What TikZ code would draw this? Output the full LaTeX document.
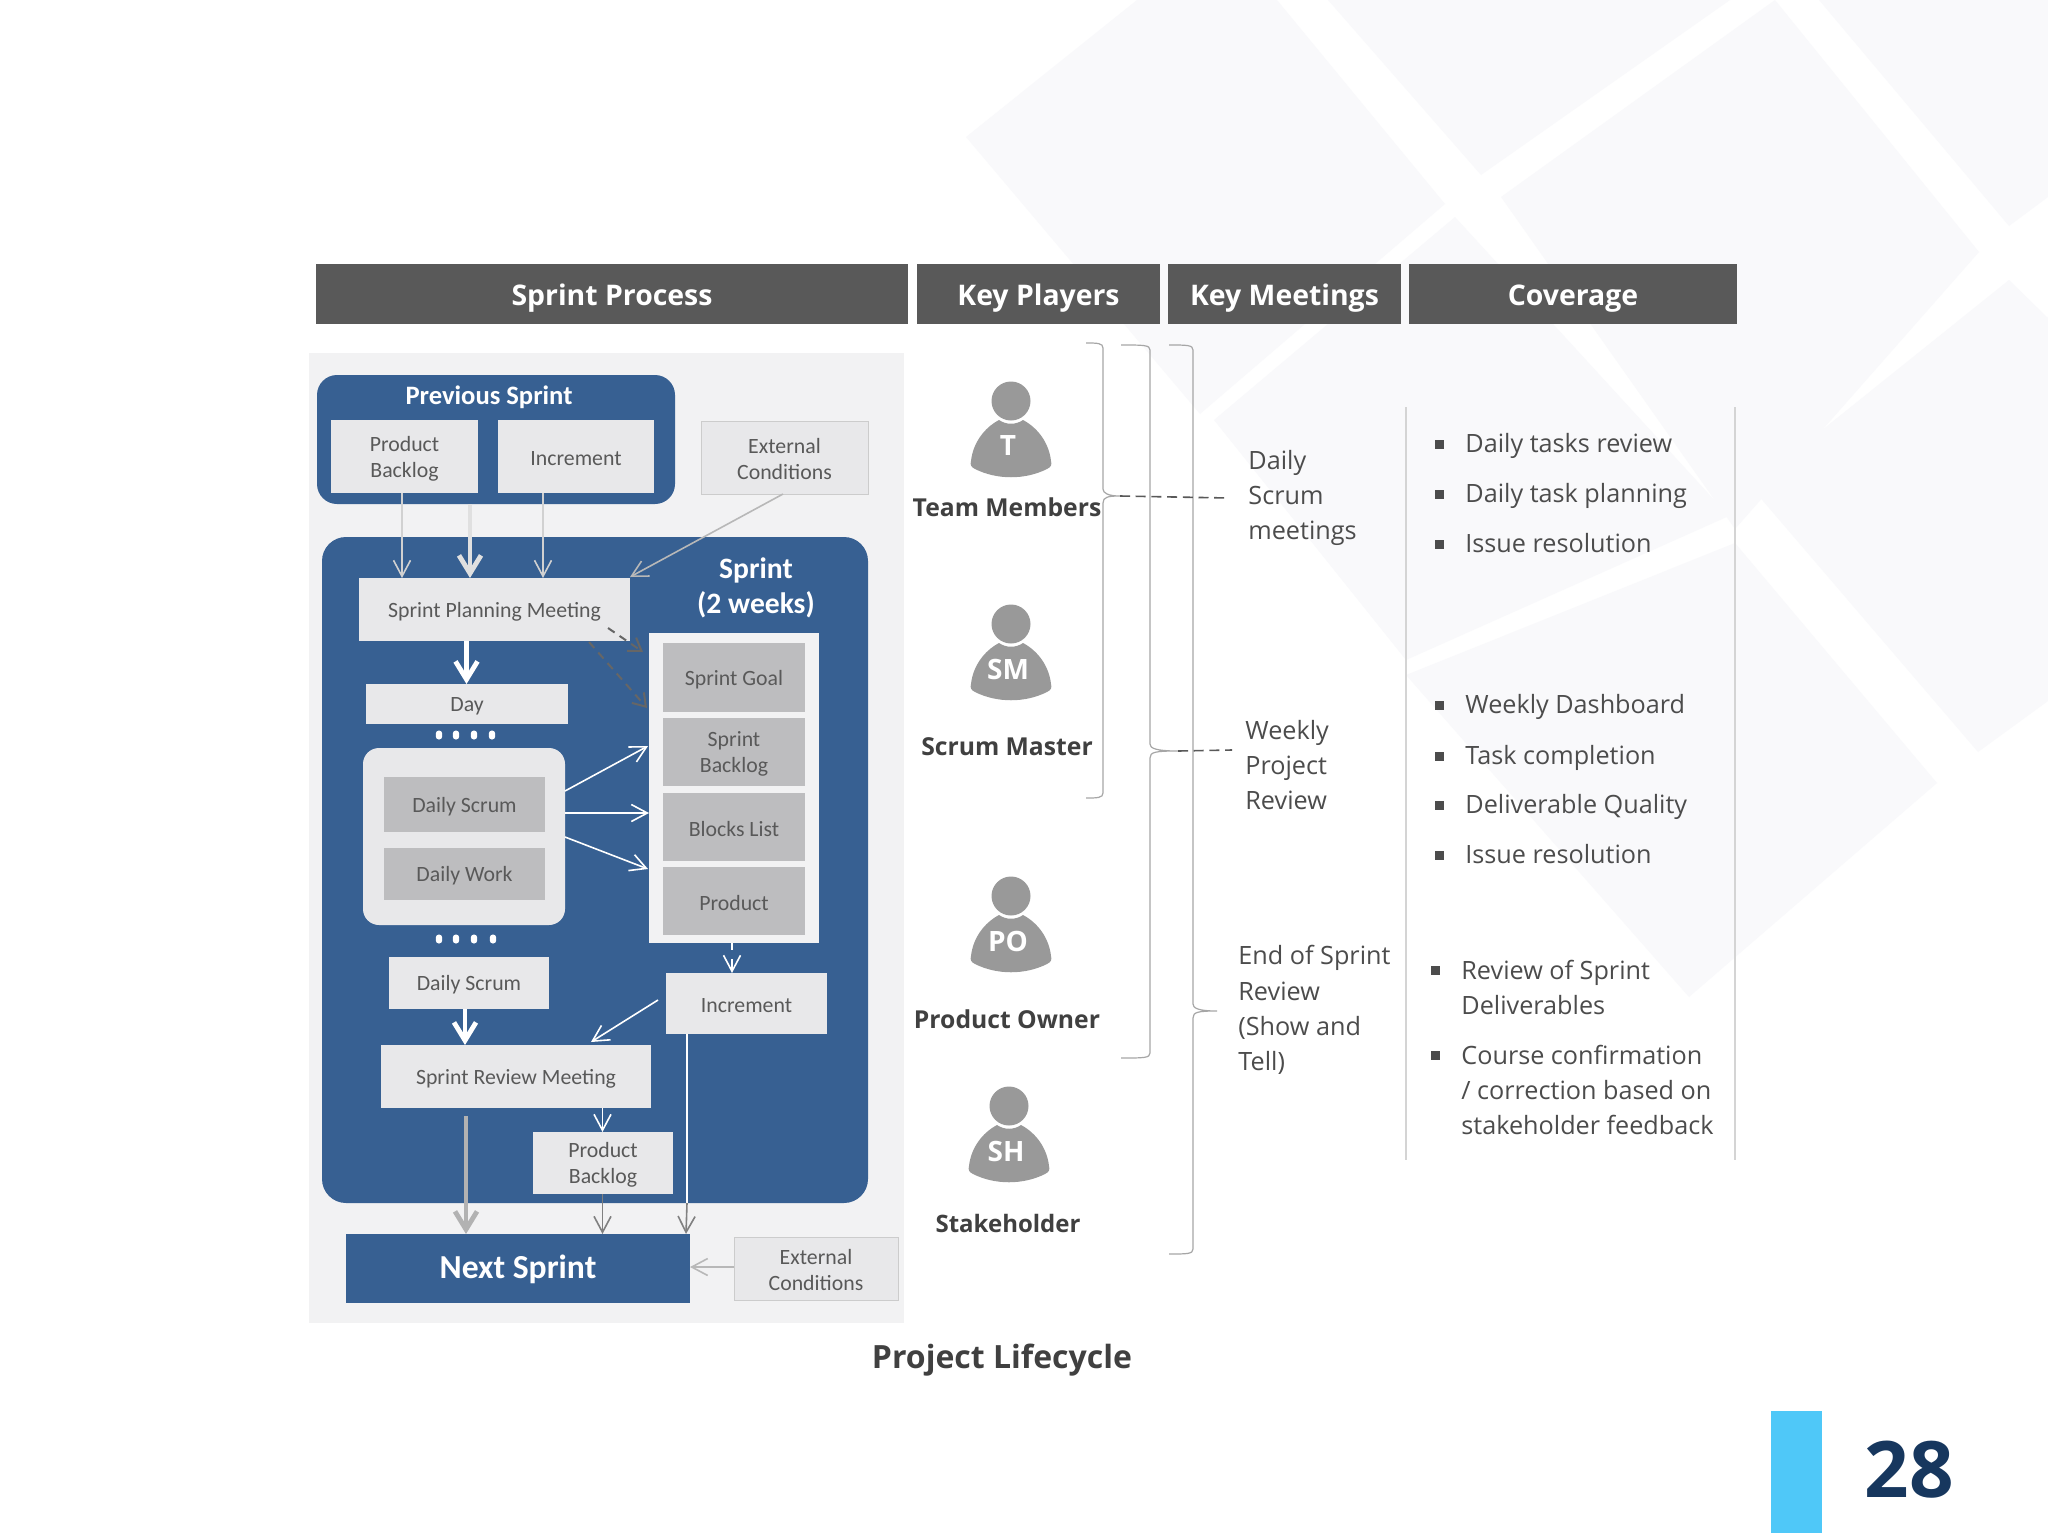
\documentclass[tikz,border=0pt]{standalone}
\usepackage{fontspec}
\setmainfont{Open Sans}
\newfontfamily\calib{Carlito}
\usetikzlibrary{arrows.meta,calc}
\definecolor{sblue}{HTML}{376092}
\definecolor{lbox}{HTML}{E8E8EA}
\definecolor{gbox}{HTML}{BDBDBF}
\definecolor{panel}{HTML}{F2F2F3}
\definecolor{head}{HTML}{595959}
\definecolor{txt}{HTML}{595959}
\definecolor{wm}{HTML}{F9F9FB}
\definecolor{pers}{HTML}{999999}
\definecolor{brc}{HTML}{A6A6A6}
\newcommand{\bx}[7]{\pgfmathsetmacro\bxcx{(#3+#5)/2}\pgfmathsetmacro\bxcy{(#4+#6)/2}\pgfmathsetmacro\bxw{(#5-#3)*0.5}\pgfmathsetmacro\bxh{(#6-#4)*0.5}\node[base box,#2,minimum width=\bxw pt,minimum height=\bxh pt] (#1) at (\bxcx,\bxcy) {\rule{0pt}{9.4pt}#7};}
\newcommand{\person}[4]{\begin{scope}[shift={(#1,#2)}]
\fill[pers] (0,0) circle[radius=19.5];
\fill[pers] (-40,60) .. controls (-38,42) and (-27,27) .. (-12,19) .. controls (-5,24) and (5,24) .. (12,19) .. controls (27,27) and (38,42) .. (40,60) .. controls (41,64) and (40,66) .. (36,68) .. controls (14,79) and (-14,79) .. (-36,68) .. controls (-40,66) and (-41,64) .. (-40,60) -- cycle;
\node[text=white,font=\fontsize{14}{16}\selectfont\bfseries,inner sep=0pt] (#3) at (-3,45) {#4};
\end{scope}}
\newcommand{\brk}[7]{\draw[brcline] (#2,#4) .. controls (#3-6,#4) and (#3,#4) .. (#3,#4+5) -- (#3,#5-7) .. controls (#3,#5-3) and (#3+5,#5) .. (#6,#5) .. controls (#3+5,#5) and (#3,#5+1) .. (#3,#5+7) -- (#3,#7-5) .. controls (#3,#7) and (#3-6,#7) .. (#2,#7);
\coordinate (#1) at (#6,#5);}
\tikzset{
 x=0.5pt,y=-0.5pt,
 base box/.style={inner sep=0pt,outer sep=0pt,align=center,text=txt,font=\fontsize{10.9}{13}\selectfont\calib},
 lb/.style={fill=lbox},
 gb/.style={fill=gbox},
 hdr/.style={fill=head,text=white,text height=11.8pt,text depth=0pt,font=\fontsize{14.2}{16}\selectfont\bfseries},
 ln/.style={line width=0.8pt,draw=#1,-{Straight Barb[length=8pt,width=8.5pt,line width=0.8pt]}},
 th/.style={line width=2.4pt,draw=#1,-{Straight Barb[length=9pt,width=11pt,line width=2.4pt]}},
 dsh/.style={line width=1pt,draw=black!60,dash pattern=on 4pt off 3pt,-{Straight Barb[length=6pt,width=8pt,line width=1pt]}},
 dotb/.style={fill=white,rounded corners=1.5pt,minimum width=3.2pt,minimum height=4.5pt,inner sep=0pt},
 brcline/.style={draw=brc,line width=0.6pt},
 dline/.style={draw=black!65,line width=0.8pt,dash pattern=on 5pt off 2.85pt},
 keytxt/.style={anchor=west,align=left,inner sep=0pt,text=black!70,font=\fontsize{12.6}{17.6}\selectfont},
 playertxt/.style={inner sep=0pt,text=black!75,font=\fontsize{12.35}{14}\selectfont\bfseries},
 sq/.style={fill=black!70,inner sep=0pt,minimum size=4.5pt},
 vline/.style={draw=black!17,line width=1pt},
 bt/.style={anchor=west,align=left,inner sep=0pt,text=black!70,font=\fontsize{12.6}{17.5}\selectfont},
 btb/.style={bt,anchor=base west}
}
\begin{document}
\begin{tikzpicture}
\useasboundingbox (0,0) rectangle (2048,1536);
\fill[white] (0,0) rectangle (2048,1536);
% watermark
\fill[wm] (966,137)--(1137,0)--(1277,0)--(1445,204)--(1200,414)--cycle;
\fill[wm] (1328,0)--(1730,0)--(1481,175)--cycle;
\fill[wm] (1775,0)--(1501,197)--(1735,529)--(1979,252)--cycle;
\fill[wm] (1819,0)--(2009,226)--(2048,197)--(2048,0)--cycle;
\fill[wm] (1455,217)--(1729,516)--(1406,660)--(1214,420)--cycle;
\fill[wm] (1751,487)--(2009,280)--(2048,318)--(2048,701)--(1978,752)--cycle;
\fill[wm] (1735,543)--(1937,783)--(1689,997)--(1406,675)--cycle;
% headers
\bx{h1}{hdr}{316}{264}{908}{324}{Sprint Process}
\bx{h2}{hdr}{917}{264}{1160}{324}{Key Players}
\bx{h3}{hdr}{1168}{264}{1401}{324}{Key Meetings}
\bx{h4}{hdr}{1409}{264}{1737}{324}{Coverage}
% panel
\bx{panelbg}{fill=panel}{309}{353}{904}{1323}{}
\bx{prev}{fill=sblue,rounded corners=10pt}{317}{375}{675}{504}{}
\bx{sprint}{fill=sblue,rounded corners=12pt}{322}{537}{868}{1203}{}
\bx{pb}{lb}{331}{420}{478}{493}{Product\\Backlog}
\bx{inc}{lb}{498}{420}{654}{493}{Increment}
\bx{ext}{lb,draw=black!20,line width=0.5pt}{701}{421}{868}{494}{External\\Conditions}
\node[text=white,font=\fontsize{13.3}{14}\selectfont\calib\bfseries,inner sep=0pt] (prevt) at (489,397) {Previous Sprint};
\node[text=white,align=center,font=\fontsize{14.8}{17.5}\selectfont\calib\bfseries,inner sep=0pt] (sprt) at (756,588) {Sprint\\(2 weeks)};
\bx{spm}{lb}{359}{578}{630}{641}{Sprint Planning Meeting}
\bx{day}{lb}{366}{684}{568}{724}{Day}
\foreach \n/\xx in {a/439,b/456,c/474,d/492}{\node[dotb] (dt\n) at (\xx,735) {};}
\bx{col}{fill=panel}{649}{633}{819}{943}{}
\bx{goal}{gb}{663}{643}{805}{712}{Sprint Goal}
\bx{bl}{gb}{663}{718}{805}{786}{Sprint\\Backlog}
\bx{blocks}{gb}{663}{793}{805}{861}{Blocks List}
\bx{prod}{gb}{663}{867}{805}{935}{Product}
\bx{grp}{lb,rounded corners=8pt}{363}{748}{565}{925}{}
\bx{ds}{gb}{384}{777}{545}{832}{Daily Scrum}
\bx{dw}{gb}{384}{848}{545}{900}{Daily Work}
\foreach \n/\xx in {a/439,b/456,c/474,d/493}{\node[dotb] (de\n) at (\xx,939) {};}
\bx{dsb}{lb}{389}{957}{549}{1009}{Daily Scrum}
\bx{incb}{lb}{666}{973}{827}{1034}{Increment}
\bx{srm}{lb}{381}{1045}{651}{1108}{Sprint Review Meeting}
\bx{pbb}{lb}{533}{1132}{673}{1194}{Product\\Backlog}
\bx{next}{fill=sblue,text=white,text height=9.5pt,text depth=0pt,font=\fontsize{16.8}{18}\selectfont\calib\bfseries}{346}{1234}{690}{1303}{Next Sprint}
\bx{extb}{lb,draw=black!20,line width=0.5pt}{734}{1237}{898}{1300}{External\\Conditions}
% helper positions
\coordinate (xa) at (402,0);
\coordinate (xb) at (470,0);
\coordinate (xc) at (543,0);
\coordinate (xd) at (466.5,0);
\coordinate (xe) at (732,0);
\coordinate (xf) at (465,0);
\coordinate (xg) at (602.5,0);
\coordinate (xh) at (686,0);
\coordinate (xi) at (466,1116);
\coordinate (yj) at (0,813);
\coordinate (ya) at (0,1267);
\coordinate (gra) at (565,791);
\coordinate (cola) at (648,746);
\coordinate (grb) at (565,837);
\coordinate (colb) at (648,869);
\coordinate (inca) at (658,1000);
\coordinate (srma) at (591,1042);
\coordinate (exa) at (783,494);
\coordinate (spa) at (630,577);
\coordinate (da) at (608,628);
\coordinate (db) at (643,652);
\coordinate (dc) at (589,642);
\coordinate (dd) at (647,708);
\coordinate (ma) at (687,1203);
% connectors
\draw[ln=black!18] (pb.south -| xa) -- (spm.north -| xa);
\draw[th=black!12] (prev.south -| xb) -- (spm.north -| xb);
\draw[ln=black!18] (inc.south -| xc) -- (spm.north -| xc);
\draw[ln=black!28] (exa) -- (spa);
\draw[th=white] (spm.south -| xd) -- (day.north -| xd);
\draw[dsh] (da) -- (db);
\draw[dsh] (dc) -- (dd);
\draw[ln=white] (gra) -- (cola);
\draw[ln=white] (grp.east |- yj) -- (col.west |- yj);
\draw[ln=white] (grb) -- (colb);
\draw[ln=white,dash pattern=on 3.5pt off 4.5pt on 20pt off 0pt] (col.south -| xe) -- (incb.north -| xe);
\draw[ln=white] (inca) -- (srma);
\draw[th=white] (dsb.south -| xf) -- (srm.north -| xf);
\draw[ln=white] (srm.south -| xg) -- (pbb.north -| xg);
\draw[th=black!30] (xi) -- (next.north -| xi);
\draw[ln=black!50] (pbb.south -| xg) -- (next.north -| xg);
\draw[line width=0.8pt,draw=white] (incb.south -| ma) -- (ma);
\draw[ln=black!50] (ma) -- (next.north -| xh);
\draw[ln=black!28] (extb.west |- ya) -- (next.east |- ya);
% persons
\person{1011}{401}{pt}{T}
\person{1011}{624}{psm}{SM}
\person{1011}{896}{ppo}{PO}
\person{1009}{1106}{psh}{SH}
\node[playertxt] (lt) at (1007,507) {Team Members};
\node[playertxt] (lsm) at (1007,747) {Scrum Master};
\node[playertxt] (lpo) at (1007,1019) {Product Owner};
\node[playertxt,font=\fontsize{12}{14}\selectfont\bfseries] (lsh) at (1008,1223) {Stakeholder};
% braces
\brk{tipa}{1086}{1103}{343}{496}{1120}{798}
\brk{tipb}{1121}{1150}{345}{751}{1178}{1058}
\brk{tipc}{1169}{1193}{345}{1011}{1217}{1254}
\coordinate (enda) at (1228,498);
\coordinate (endb) at (1232,750);
\draw[dline] (tipa) -- (enda);
\draw[dline] (tipb) -- (endb);
% key meetings
\node[keytxt] (m1) at (1248,498) {Daily\\Scrum\\meetings};
\node[keytxt] (m2) at (1245,765) {Weekly\\Project\\Review};
\node[keytxt] (m3) at (1238,1010) {End of Sprint\\Review\\(Show and\\Tell)};
% coverage
\coordinate (va) at (1406,407);
\coordinate (vb) at (1406,1160);
\coordinate (vc) at (1735,407);
\coordinate (vd) at (1735,1160);
\draw[vline] (va) -- (vb);
\draw[vline] (vc) -- (vd);
\foreach \n/\yy/\tt in {a/444/Daily tasks review,b/494/Daily task planning,c/544/Issue resolution,d/705/Weekly Dashboard,e/756/Task completion,f/805/Deliverable Quality,g/855/Issue resolution}{
 \node[sq] (s\n) at (1439,\yy) {};
 \pgfmathsetmacro\ty{\yy+8}
 \node[btb] (t\n) at (1465,\ty) {\tt};
}
\node[sq] (sh) at (1435,970) {};
\node[bt] (th) at (1461,987) {Review of Sprint\\Deliverables};
\node[sq] (si) at (1435,1055) {};
\node[bt] (ti) at (1461,1090) {Course confirmation\\/ correction based on\\stakeholder feedback};
% footer
\node[inner sep=0pt,text=black!75,font=\fontsize{16}{18}\selectfont\bfseries] (cap) at (1002,1360) {Project Lifecycle};
\fill[fill={rgb,255:red,79;green,200;blue,248}] (1771,1411) rectangle (1822,1533);
\node[inner sep=0pt,text={rgb,255:red,23;green,55;blue,94},font=\fontsize{39}{48}\selectfont\bfseries] (pg) at (1909,1470) {28};
\end{tikzpicture}
\end{document}
